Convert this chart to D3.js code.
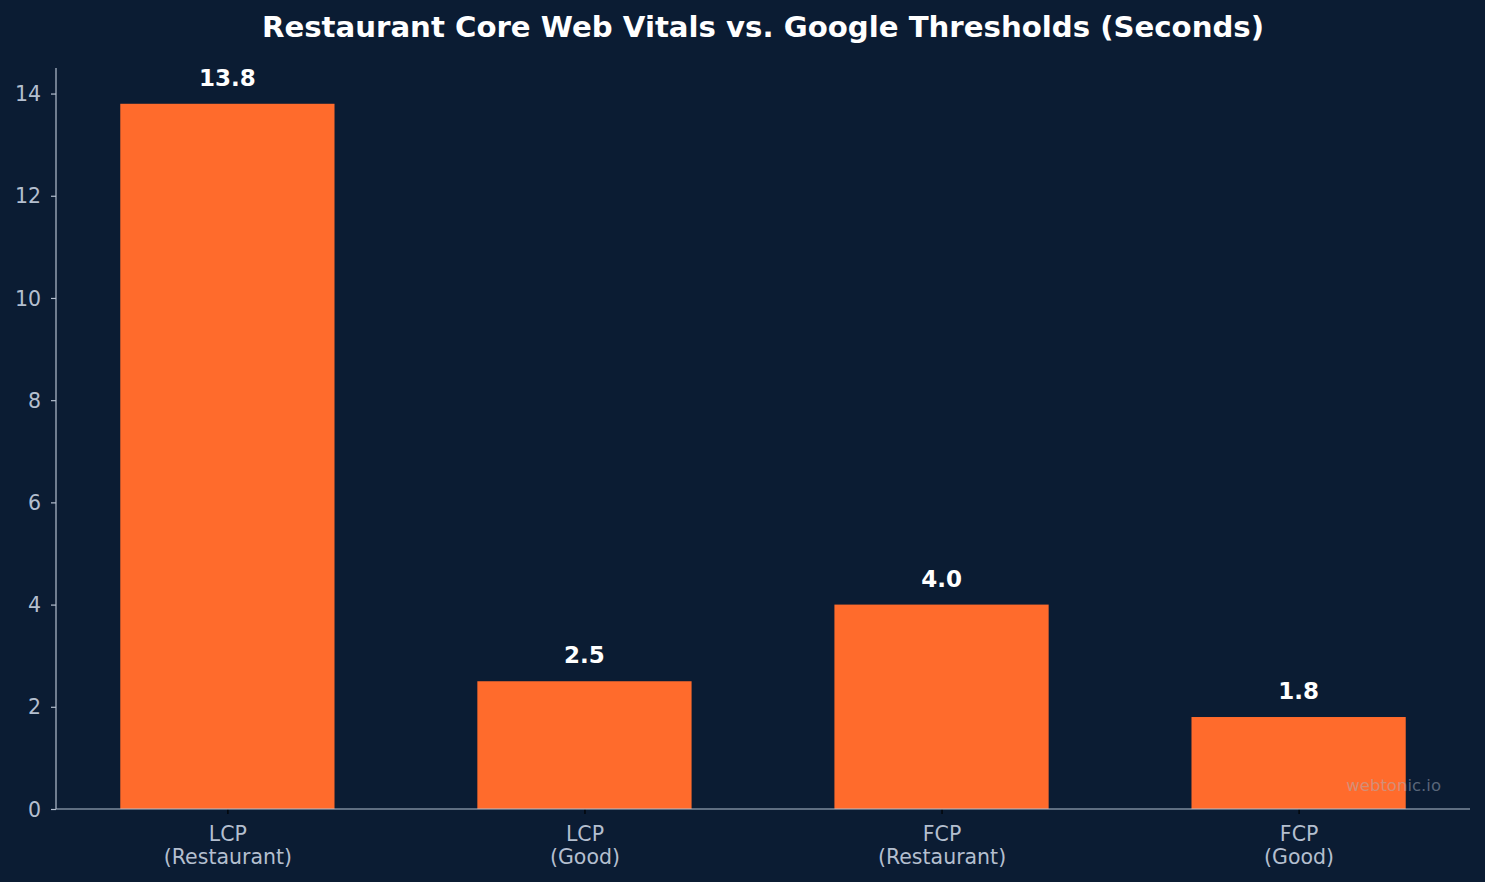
<!DOCTYPE html>
<html><head><meta charset="utf-8">
<script src="https://cdn.jsdelivr.net/npm/d3@7"></script>
<style>html,body{margin:0;padding:0;background:#0b1c33;}svg{display:block;}</style>
</head><body>
<svg id="c" width="1485" height="882"></svg>
<script>
const categories = [["LCP","(Restaurant)"],["LCP","(Good)"],["FCP","(Restaurant)"],["FCP","(Good)"]];
const values = [13.8, 2.5, 4.0, 1.8];
const valueLabels = ["13.8","2.5","4.0","1.8"];
const yTicks = [0,2,4,6,8,10,12,14];

const W=1485,H=882;
const L=56,R=1470,T=68,B=809;
const font="DejaVu Sans, sans-serif";
const svg=d3.select("#c");
svg.append("rect").attr("width",W).attr("height",H).attr("fill","#0b1c33");

const x=d3.scaleLinear().domain([-0.48,3.48]).range([L,R]);
const y=d3.scaleLinear().domain([0,14.5]).range([B,T]);
const bw=0.6;

svg.selectAll("rect.bar").data(values).join("rect").attr("class","bar")
 .attr("x",(d,i)=>x(i-bw/2)).attr("width",(d,i)=>x(i+bw/2)-x(i-bw/2))
 .attr("y",d=>y(d)).attr("height",d=>y(0)-y(d)).attr("fill","#ff6b2c");

svg.selectAll("text.val").data(values).join("text").attr("class","val")
 .attr("x",(d,i)=>x(i)).attr("y",d=>y(d)-18).attr("text-anchor","middle")
 .attr("font-family",font).attr("font-weight","bold").attr("font-size",23).attr("fill","#ffffff")
 .text((d,i)=>valueLabels[i]);

// y axis
const yAxis=d3.axisLeft(y).tickValues(yTicks).tickSize(5).tickPadding(10).tickFormat(d3.format("d"));
const gy=svg.append("g").attr("transform",`translate(${L},0)`).call(yAxis);
gy.select(".domain").remove();
gy.selectAll(".tick line").attr("stroke","#b4bfcf").attr("stroke-width",1.2);
gy.selectAll(".tick text").attr("fill","#b4bfcf").attr("font-family",font).attr("font-size",20.5).attr("dy","0.35em");
svg.append("line").attr("x1",L).attr("x2",L).attr("y1",T).attr("y2",B).attr("stroke","#b4bfcf").attr("stroke-width",1.2);

// x axis
const xAxis=d3.axisBottom(x).tickValues([0,1,2,3]).tickSize(5).tickFormat("");
const gx=svg.append("g").attr("transform",`translate(0,${B})`).call(xAxis);
gx.select(".domain").remove();
gx.selectAll(".tick line").attr("stroke","#000000").attr("stroke-width",1.2);
svg.append("line").attr("x1",L).attr("x2",R).attr("y1",B).attr("y2",B).attr("stroke","#b4bfcf").attr("stroke-width",1.2);
gx.selectAll(".tick").each(function(d){
  const t=d3.select(this).append("text").attr("fill","#b4bfcf").attr("font-family",font).attr("font-size",20.5).attr("text-anchor","middle");
  t.append("tspan").attr("x",0).attr("y",32).text(categories[d][0]);
  t.append("tspan").attr("x",0).attr("y",55).text(categories[d][1]);
});

svg.append("text").attr("x",(L+R)/2).attr("y",37).attr("text-anchor","middle")
 .attr("font-family",font).attr("font-weight","bold").attr("font-size",29.2).attr("fill","#ffffff")
 .text("Restaurant Core Web Vitals vs. Google Thresholds (Seconds)");

svg.append("text").attr("x",1441).attr("y",791).attr("text-anchor","end")
 .attr("font-family",font).attr("font-size",16.5).attr("fill","#a8b2c0").attr("fill-opacity",0.5)
 .text("webtonic.io");
</script>
</body></html>
